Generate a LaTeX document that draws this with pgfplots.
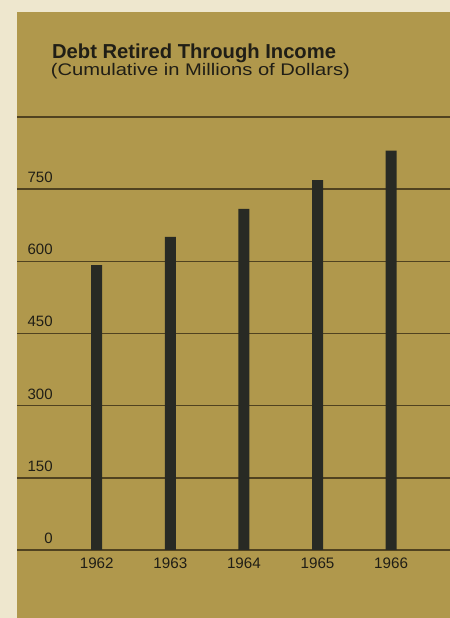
\documentclass[border=0pt]{standalone}
\usepackage{pgfplots}
\pgfplotsset{compat=1.18}
\usepackage{fontspec}
\setmainfont{Liberation Sans}
\newfontfamily\widefont{Liberation Sans}[FakeStretch=1.2]

\definecolor{paper}{RGB}{238,231,206}
\definecolor{panel}{RGB}{176,152,76}
\definecolor{ink}{RGB}{32,30,22}
\definecolor{barcol}{RGB}{40,42,36}
\definecolor{rule}{RGB}{80,66,32}

\begin{document}
\begin{tikzpicture}
  % page and coloured panel
  \useasboundingbox (0,0) rectangle (225pt,309pt);
  \fill[paper] (0,0) rectangle (225pt,309pt);
  \fill[panel] (8.5pt,0) rectangle (225pt,303pt);

  \begin{axis}[
    at={(8.5pt,34pt)}, anchor=south west,
    scale only axis,
    width=216.5pt, height=216.5pt,
    xmin=-1.083, xmax=4.80,
    ymin=0, ymax=900,
    axis line style={draw=none},
    tick style={draw=none},
    xtick={0,1,2,3,4},
    xticklabels={1962,1963,1964,1965,1966},
    ytick={0,150,300,450,600,750,900},
    yticklabels={0,150,300,450,600,750,{}},
    ymajorgrids,
    grid style={rule, line width=0.7pt},
    /pgf/number format/assume math mode=true,
    yticklabel style={font=\fontsize{7.5}{8}\selectfont, text=ink,
      anchor=south east, inner sep=0pt, xshift=18pt, yshift=3pt},
    xticklabel style={font=\fontsize{7.6}{8}\selectfont, text=ink,
      anchor=north, inner sep=0pt, yshift=-3.9pt},
    clip=false,
  ]
    \addplot[ybar, bar width=5.5pt, fill=barcol, draw=none]
      coordinates {(0,592) (1,651) (2,709) (3,769) (4,830)};
  \end{axis}

  % heading
  \node[anchor=base west, inner sep=0pt, text=ink,
        font=\fontsize{10.1}{11}\selectfont\bfseries]
    at (25.85pt,279.6pt) {Debt Retired Through Income};
  \node[anchor=base west, inner sep=0pt, text=ink,
        font=\widefont\fontsize{8.4}{10}\selectfont]
    at (25.2pt,271.3pt) {(Cumulative in Millions of Dollars)};
\end{tikzpicture}
\end{document}
